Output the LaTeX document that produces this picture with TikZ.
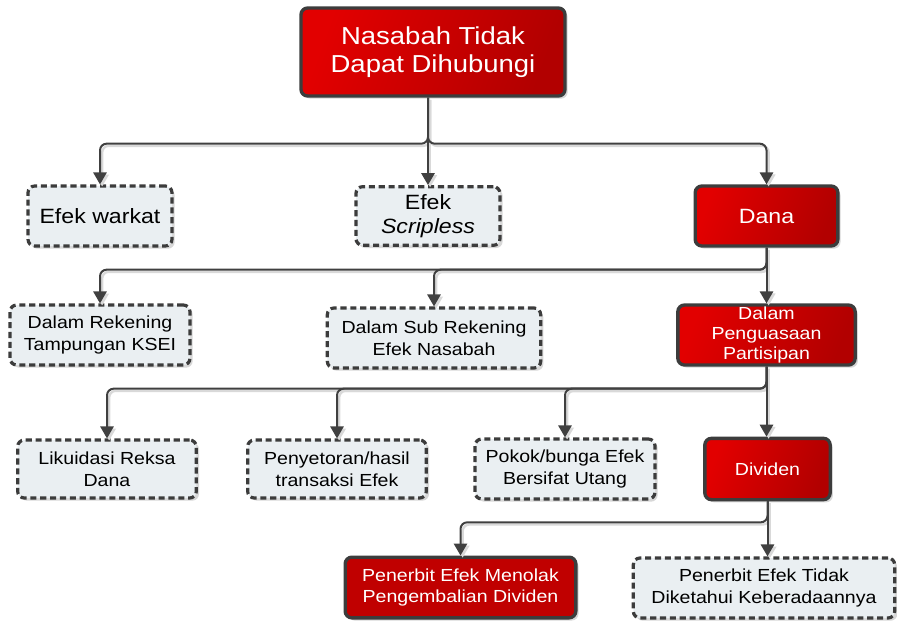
\documentclass[tikz,border=0pt]{standalone}
\usepackage{fontspec}
\setmainfont{Liberation Sans}[FakeStretch=1.12]
\usetikzlibrary{arrows.meta,shadows,calc}
\definecolor{redA}{RGB}{226,0,0}
\definecolor{redB}{RGB}{178,0,0}
\definecolor{redC}{RGB}{192,0,0}
\definecolor{boxfill}{RGB}{234,239,242}
\definecolor{edge}{RGB}{60,60,60}
\definecolor{connc}{RGB}{64,64,64}
\tikzset{
  boxbase/.style={rounded corners=5pt, align=center, inner sep=0pt,
    drop shadow={shadow xshift=2pt, shadow yshift=-2pt, fill=black!35, opacity=0.45}},
  redbox/.style={boxbase, draw=edge, line width=2.5pt, left color=redA, right color=redB,
    shading angle=70, text=white},
  solidred/.style={boxbase, draw=edge, line width=2.5pt, fill=redC, text=white},
  dashbox/.style={boxbase, draw=edge, line width=2.4pt, dash pattern=on 4.6pt off 2.8pt,
    fill=boxfill, text=black},
  conn/.style={draw=connc, line width=1.5pt, rounded corners=5pt,
    -{Triangle[length=9pt,width=10pt]},
    preaction={draw=black!15, line width=1.8pt, transform canvas={shift={(1.6pt,-1.6pt)}}}},
  fbig/.style={font=\fontsize{18.4}{21.5}\selectfont},
  fmid/.style={font=\fontsize{15.5}{18}\selectfont},
  fsmall/.style={font=\fontsize{13.1}{16.2}\selectfont},
}
\begin{document}
\begin{tikzpicture}[x=0.75pt,y=-0.75pt]
\useasboundingbox (0,0) rectangle (897,621);
% nodes
\node[redbox, fbig, minimum width=198pt, minimum height=66pt] (top) at (433,52) {Nasabah Tidak\\Dapat Dihubungi};
\node[dashbox, fmid, minimum width=108pt, minimum height=45pt] (warkat) at (100,216) {Efek warkat};
\node[dashbox, fmid, minimum width=108pt, minimum height=44pt] (scrip) at (428,216) {Efek\\\itshape Scripless};
\node[redbox, fmid, minimum width=107pt, minimum height=45pt] (dana) at (766.5,216) {Dana};
\node[dashbox, fsmall, minimum width=135pt, minimum height=45pt] (ksei) at (100,335) {Dalam Rekening\\Tampungan KSEI};
\node[dashbox, fsmall, minimum width=160pt, minimum height=45pt] (subrek) at (434,338) {Dalam Sub Rekening\\Efek Nasabah};
\node[redbox, fsmall, minimum width=133pt, minimum height=45pt, font=\fontsize{13.1}{15}\selectfont] (pen) at (766.5,335) {Dalam\\Penguasaan\\Partisipan};
\node[dashbox, fsmall, minimum width=134pt, minimum height=43.5pt] (lik) at (107,469) {Likuidasi Reksa\\Dana};
\node[dashbox, fsmall, minimum width=134pt, minimum height=43.5pt] (setor) at (337,469) {Penyetoran/hasil\\transaksi Efek};
\node[dashbox, fsmall, minimum width=135pt, minimum height=45pt] (pokok) at (565,469) {Pokok/bunga Efek\\Bersifat Utang};
\node[redbox, fsmall, minimum width=94pt, minimum height=46pt] (div) at (767.5,469) {Dividen};
\node[solidred, fsmall, minimum width=173pt, minimum height=45.5pt] (tolak) at (460.5,587.5) {Penerbit Efek Menolak\\Pengembalian Dividen};
\node[dashbox, fsmall, minimum width=196pt, minimum height=45pt] (tidak) at (764,588) {Penerbit Efek Tidak\\Diketahui Keberadaannya};
% connectors
\draw[conn] (top.south -| scrip.north) -- ++(0,46) -| (warkat.north);
\draw[conn] (top.south -| scrip.north) -- (scrip.north);
\draw[conn] (top.south -| scrip.north) -- ++(0,46) -| (dana.north);
\draw[conn] (dana.south) -- ++(0,22) -| (ksei.north);
\draw[conn] (dana.south) -- ++(0,22) -| (subrek.north);
\draw[conn] (dana.south) -- (pen.north);
\draw[conn] (pen.south) -- ++(0,22) -| (lik.north);
\draw[conn] (pen.south) -- ++(0,22) -| (setor.north);
\draw[conn] (pen.south) -- ++(0,22) -| (pokok.north);
\draw[conn] (pen.south) -- (pen.south |- div.north);
\draw[conn] (div.south) -- ++(0,21) -| (tolak.north);
\draw[conn] (div.south) -- (div.south |- tidak.north);
\end{tikzpicture}
\end{document}
